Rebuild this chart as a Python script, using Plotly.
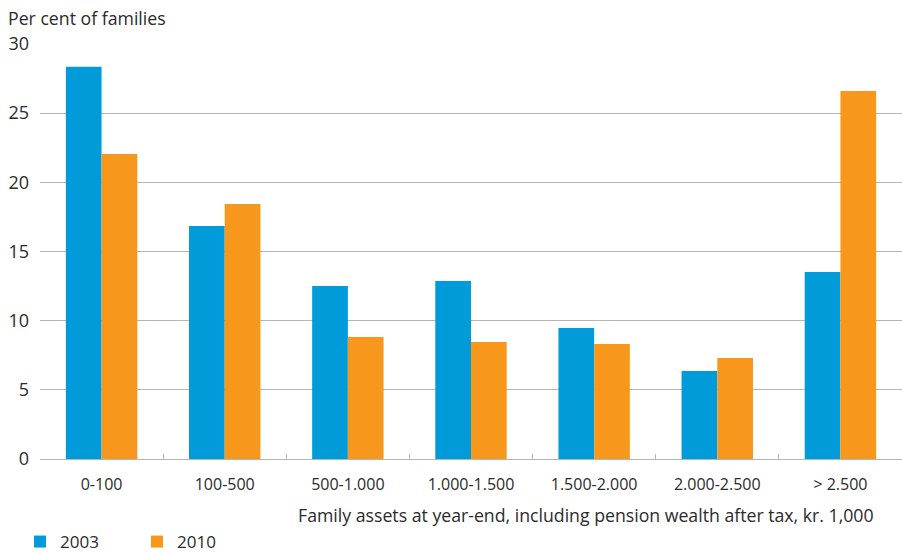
import plotly.graph_objects as go

categories = ['0-100', '100-500', '500-1.000', '1.000-1.500', '1.500-2.000', '2.000-2.500', '> 2.500']
values_2003 = [28.35, 16.85, 12.5, 12.87, 9.47, 6.36, 13.52]
values_2010 = [22.05, 18.44, 8.82, 8.46, 8.32, 7.3, 26.6]

blue = '#009bd8'
orange = '#f7981d'
text_col = '#2b2b2b'

fig = go.Figure()
fig.add_bar(x=categories, y=values_2003, name='2003', marker_color=blue, marker_line_width=0)
fig.add_bar(x=categories, y=values_2010, name='2010', marker_color=orange, marker_line_width=0)

fig.update_layout(
    width=902,
    height=553,
    margin=dict(l=40, r=0, t=44, b=94, autoexpand=False),
    plot_bgcolor='white',
    paper_bgcolor='white',
    font=dict(family='Open Sans', size=16, color=text_col),
    barmode='group',
    bargap=0.42,
    bargroupgap=0,
    legend=dict(
        orientation='h',
        x=(20 - 40) / 862, y=-83 / 415, xanchor='left', yanchor='middle',
        entrywidth=72,
        font=dict(size=17, color=text_col),
        itemsizing='constant',
        tracegroupgap=0,
    ),
    showlegend=True,
)

fig.update_yaxes(
    range=[0, 30],
    dtick=5,
    showgrid=True,
    gridcolor='#b5b5b5',
    gridwidth=1,
    zeroline=False,
    showline=False,
    ticks='',
    ticklabelstandoff=10,
    tickfont=dict(size=18),
    automargin=False,
)

fig.update_xaxes(
    showline=True,
    linecolor='#b5b5b5',
    linewidth=1,
    ticks='inside',
    ticklen=5,
    tickcolor='#b5b5b5',
    tickson='boundaries',
    showgrid=False,
    ticklabelstandoff=11,
    tickfont=dict(size=16),
    automargin=False,
)

fig.add_annotation(
    text='Per cent of families', xref='paper', yref='paper',
    x=-40 / 862, y=1, xshift=6, yshift=12, xanchor='left', yanchor='bottom',
    showarrow=False, font=dict(size=17.7, color=text_col),
)
fig.add_annotation(
    text='Family assets at year-end, including pension wealth after tax, kr. 1,000',
    xref='paper', yref='paper', x=(876 - 40) / 862, y=0, yshift=-42,
    xanchor='right', yanchor='top', showarrow=False,
    font=dict(size=17.7, color=text_col),
)

fig.write_html('out.html', config={'displayModeBar': False},
               post_script="document.body.style.margin='0';")
